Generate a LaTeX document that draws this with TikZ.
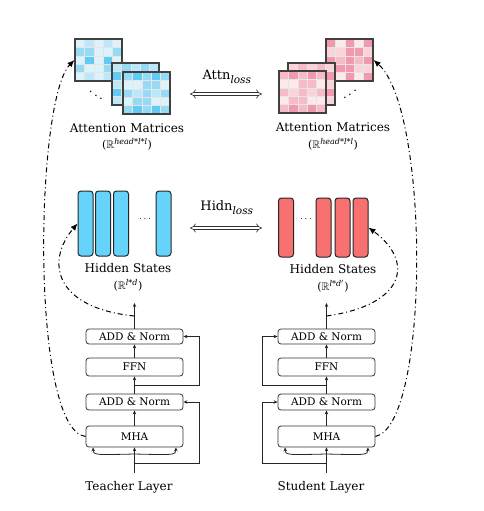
\documentclass[tikz,border=0pt]{standalone}
\usepackage{fontspec}
\setmainfont{DejaVu Serif}
\usepackage{amssymb}
\usetikzlibrary{arrows.meta}

\definecolor{blueCell0}{HTML}{DDF3FC}
\definecolor{blueCell1}{HTML}{BDE8F9}
\definecolor{blueCell2}{HTML}{95DBF6}
\definecolor{blueCell3}{HTML}{62CBF4}
\definecolor{pinkCell0}{HTML}{FDE8EC}
\definecolor{pinkCell1}{HTML}{FAD3DB}
\definecolor{pinkCell2}{HTML}{F7BBC8}
\definecolor{pinkCell3}{HTML}{F399AE}
\definecolor{barBlue}{HTML}{66D4FA}
\definecolor{barRed}{HTML}{F87171}

%% small italic words for sub- and superscripts
\newcommand{\scriptWord}[2]{\mbox{\fontsize{#1}{#1}\selectfont\itshape #2}}

%% one attention matrix: name, left, top, palette, seed
\newcommand{\attnMatrix}[5]{%
  \foreach \i in {0,...,4}{
    \foreach \j in {0,...,4}{
      \pgfmathtruncatemacro{\lvl}{mod(\i*\i+2*\j*\j+3*\i*\j+#5,4)}
      \filldraw[fill=#4\lvl, draw=white!80!gray, line width=0.4pt]
        ({#2+\i*9.4},{#3+\j*8.4}) rectangle ++(9.4,8.4);
    }
  }
  \node (#1) at ({#2+23.5},{#3+21}) [matDecorate] {};
}

\begin{document}
\begin{tikzpicture}
[x=1pt,y=-1pt,
  matDecorate/.style={draw=black!75,line width=1.2pt,minimum width=47pt,minimum height=42pt,inner sep=0pt},%
  barDecorate/.style={draw=black!85,line width=1pt,rounded corners=3pt,minimum width=15pt,inner sep=0pt},%
  layerBox/.style={draw=black!80,line width=0.8pt,rounded corners=3pt,minimum width=97pt,inner sep=0pt,font=\fontsize{10.5}{12}\selectfont},%
  labelText/.style={inner sep=0pt,font=\fontsize{12}{14}\selectfont},%
  mathText/.style={inner sep=0pt,font=\fontsize{11}{13}\selectfont},%
  arrowLine/.style={draw=black!85,line width=0.8pt,-{Stealth[length=4pt,width=3.5pt]}},%
  feedLine/.style={line width=1pt,dash pattern=on 5pt off 3pt on 1pt off 3pt,-{Latex[length=7pt,width=6pt]}},%
  lossArrow/.style={double=white,draw=black!80,double distance=2.5pt,line width=0.6pt,{Implies}-{Implies}}]
\useasboundingbox (0,0) rectangle (484,511);

%% attention matrices
\attnMatrix{tMat1}{75}{39}{blueCell}{0}
\attnMatrix{tMat2}{112}{63}{blueCell}{1}
\attnMatrix{tMat3}{123}{72}{blueCell}{2}
\attnMatrix{sMat3}{326}{39}{pinkCell}{3}
\attnMatrix{sMat2}{288}{63}{pinkCell}{1}
\attnMatrix{sMat1}{279}{71}{pinkCell}{2}
\node (tMatDots) at (96,92) [scale=1.2] {$\ddots$};
\node (sMatDots) at (350,91) [xscale=-1.2,yscale=1.2] {$\ddots$};
\node (tMatText) at (127,128) [labelText] {Attention Matrices};
\node (tMatDim) at (127,144) [mathText] {($\mathbb{R}^{\scriptWord{8}{head*l*l}}$)};
\node (sMatText) at (333,127) [labelText] {Attention Matrices};
\node (sMatDim) at (333,144) [mathText] {($\mathbb{R}^{\scriptWord{8}{head*l*l}}$)};

%% hidden states
\foreach \nodename/\x in {tBar1/85.5, tBar2/103, tBar3/121, tBar4/163.5}
{
  \node (\nodename) at (\x,223.5) [barDecorate,fill=barBlue,minimum height=65pt] {};
}
\foreach \nodename/\x in {sBar1/286, sBar2/323.5, sBar3/342.5, sBar4/360.5}
{
  \node (\nodename) at (\x,227.5) [barDecorate,fill=barRed,minimum height=59pt] {};
}
\node (tBarDots) at (145,219) {$\cdots$};
\node (sBarDots) at (306,219) {$\cdots$};
\node (tBarText) at (128,268) [labelText] {Hidden States};
\node (tBarDim) at (128,285) [mathText] {($\mathbb{R}^{\scriptWord{8}{l*d}}$)};
\node (sBarText) at (333,269) [labelText] {Hidden States};
\node (sBarDim) at (333,286) [mathText] {($\mathbb{R}^{\scriptWord{8}{l*d$'$}}$)};

%% losses
\coordinate (attnL) at (190,94);
\coordinate (attnR) at (262,94);
\coordinate (hidnL) at (190,228);
\coordinate (hidnR) at (262,228);
\node (attnLoss) at (227,77) [labelText,font=\fontsize{13}{15}\selectfont] {Attn$_{\scriptWord{10.5}{loss}}$};
\node (hidnLoss) at (227,208) [labelText,font=\fontsize{13}{15}\selectfont] {Hidn$_{\scriptWord{10.5}{loss}}$};
\draw[lossArrow] (attnL) -- (attnR);
\draw[lossArrow] (hidnL) -- (hidnR);

%% layers
\foreach \side/\x/\name/\dir/\anc in {t/134.5/Teacher/1/east, s/326.5/Student/-1/west}
{
  \node (\side MHA) at (\x,436.5) [layerBox,minimum height=21pt] {MHA};
  \node (\side AddA) at (\x,402) [layerBox,minimum height=16pt] {ADD \& Norm};
  \node (\side FFN) at (\x,367) [layerBox,minimum height=18pt] {FFN};
  \node (\side AddB) at (\x,336.5) [layerBox,minimum height=15pt] {ADD \& Norm};
  \node (\side Text) at (\x-5.5,487) [labelText] {\name\ Layer};
  \coordinate (\side In) at (\x,473);
  \coordinate (\side ResA) at (\x,463);
  \coordinate (\side Fork) at (\x,454);
  \coordinate (\side ResB) at (\x,385);
  \coordinate (\side Tap) at (\x,316);
  \coordinate (\side Out) at (\x,303);
  \draw[arrowLine] (\side In) -- (\side MHA);
  \draw[arrowLine] (\side Fork) .. controls (\x-41,455) .. ([xshift=-41.5pt]\side MHA.south);
  \draw[arrowLine] (\side Fork) .. controls (\x+41,455) .. ([xshift=41.5pt]\side MHA.south);
  \draw[arrowLine] (\side MHA) -- (\side AddA);
  \draw[arrowLine] (\side AddA) -- (\side FFN);
  \draw[arrowLine] (\side FFN) -- (\side AddB);
  \draw[arrowLine] (\side AddB) -- (\side Out);
  \draw[arrowLine] (\side ResA) -- ++(\dir*64.5,0) |- (\side AddA.\anc);
  \draw[arrowLine] (\side ResB) -- ++(\dir*64.5,0) |- (\side AddB.\anc);
}

%% feeding the outputs
\draw[feedLine] (tMHA.west) .. controls (30,430) and (35,100) .. (tMat1.west);
\draw[feedLine] (tTap) .. controls (55,308) and (45,262) .. (tBar1.west);
\draw[feedLine] (sMHA.east) .. controls (430,425) and (430,110) .. (sMat3.east);
\draw[feedLine] (sTap) .. controls (405,305) and (415,262) .. (sBar4.east);
\end{tikzpicture}
\end{document}
